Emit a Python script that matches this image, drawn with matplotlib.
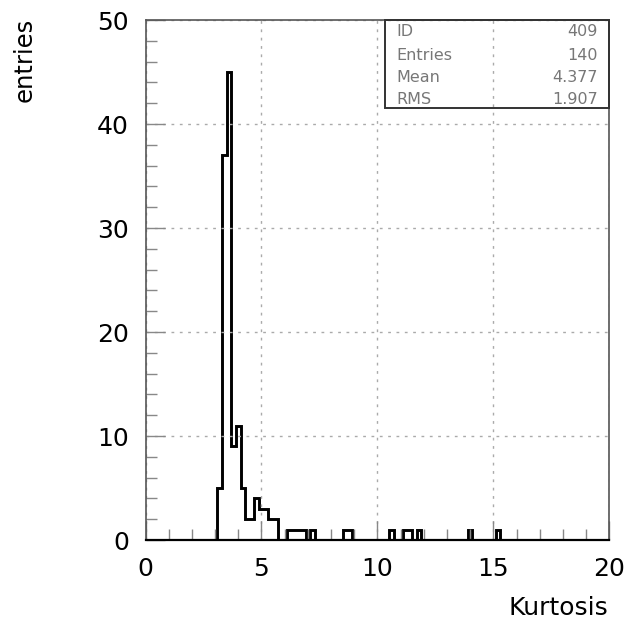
import matplotlib
matplotlib.use("Agg")
import matplotlib.pyplot as plt
import numpy as np
from matplotlib.ticker import MultipleLocator

# bin lefts and counts, bin width 0.2
bin_lefts = [3.1, 3.3, 3.5, 3.7, 3.9, 4.1, 4.3, 4.5, 4.7, 4.9, 5.1, 5.3, 5.5,
             6.1, 6.3, 6.5, 6.7, 7.1, 8.5, 8.7, 10.5, 11.1, 11.3, 11.7, 13.9, 15.1]
counts = [5, 37, 45, 9, 11, 5, 2, 2, 4, 3, 3, 2, 2,
          1, 1, 1, 1, 1, 1, 1, 1, 1, 1, 1, 1, 1]
bin_width = 0.2
x_range = [0, 20]
y_range = [0, 50]
stat_names = ["ID", "Entries", "Mean", "RMS"]
stat_values = ["409", "140", "4.377", "1.907"]

plt.rcParams["font.family"] = ["DejaVu Sans"]

# full histogram on a regular grid
edges = np.round(np.arange(0.1, 20.0 + 1e-9, bin_width), 4)
edges = np.concatenate([[0.0], edges, [20.0]])
full = np.zeros(len(edges) - 1)
for l, c in zip(bin_lefts, counts):
    idx = np.argmin(np.abs(edges[:-1] - l))
    full[idx] = c

fig = plt.figure(figsize=(6.27, 6.22), dpi=100)
ax = fig.add_axes([145.5 / 627, 1 - 540 / 622, (609.3 - 145.5) / 627, (540 - 20) / 622])

ax.stairs(full, edges, color="black", linewidth=2.1)
ax.set_xlim(*x_range)
ax.set_ylim(*y_range)

ax.xaxis.set_major_locator(MultipleLocator(5))
ax.xaxis.set_minor_locator(MultipleLocator(1))
ax.yaxis.set_major_locator(MultipleLocator(10))
ax.yaxis.set_minor_locator(MultipleLocator(2))
ax.tick_params(which="both", direction="in", top=False, right=False,
               color="#888888", width=1)
ax.tick_params(which="major", length=14, labelsize=18, pad=12)
ax.tick_params(which="minor", length=8)
ax.grid(True, which="major", linestyle=(0, (2, 4)), color="#aaaaaa", linewidth=1)
for s in ax.spines.values():
    s.set_color("#555555")
    s.set_linewidth(1.2)
ax.spines["bottom"].set_color("black")
ax.spines["bottom"].set_linewidth(1.6)

fig.text(25 / 627, 1 - 18 / 622, "entries", rotation=90, ha="center", va="top", fontsize=17.5)
fig.text(608 / 627, 1 - 620 / 622, "Kurtosis", ha="right", va="bottom", fontsize=18)

# stats box (transparent, grid shows through)
bx0, bx1 = 385 / 627, 609 / 627
by0, by1 = 1 - 108 / 622, 1 - 20 / 622
box_ax = fig.add_axes([bx0, by0, bx1 - bx0, by1 - by0])
box_ax.set_xlim(385, 609)
box_ax.set_ylim(108, 20)
box_ax.axis("off")
box_ax.add_patch(plt.Rectangle((385, 20), 224, 88, facecolor="none", edgecolor="#333333",
                               linewidth=1.4, zorder=1, clip_on=False))
row_y = [31, 55, 78, 99]
for yy, n, v in zip(row_y, stat_names, stat_values):
    box_ax.text(396, yy, n, ha="left", va="center", fontsize=11.5, color="#777777", zorder=3)
    box_ax.text(598, yy, v, ha="right", va="center", fontsize=11.5, color="#777777", zorder=3)

fig.savefig("out.png", dpi=100, facecolor="white")
